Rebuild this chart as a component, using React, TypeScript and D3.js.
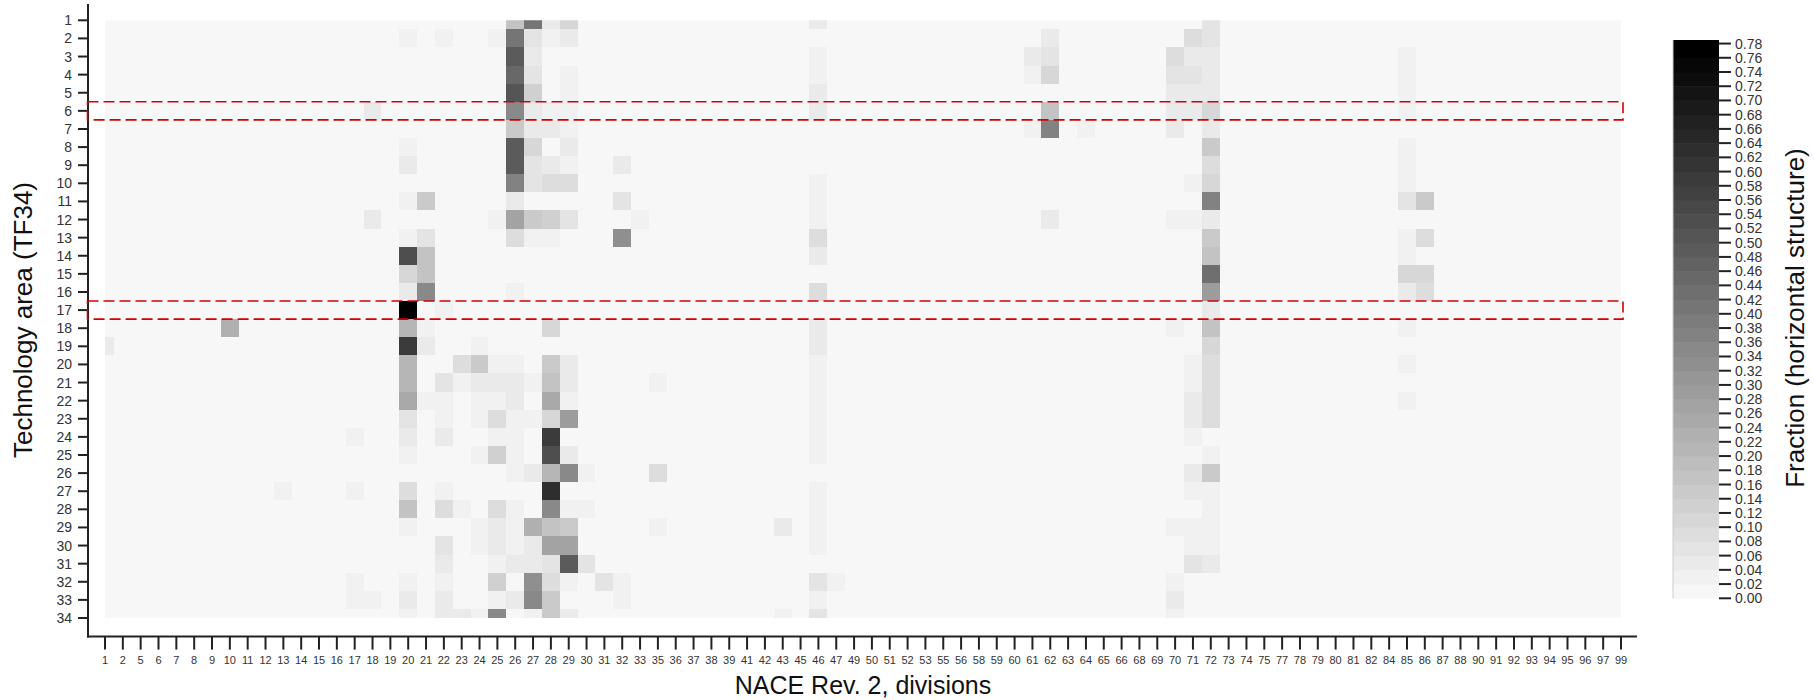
import React from "react";
import * as d3 from "d3";

// ---------- categories ----------
const naceDivisions = [
  1, 2, 5, 6, 7, 8, 9, 10, 11, 12, 13, 14, 15, 16, 17, 18, 19, 20, 21, 22, 23, 24, 25, 26, 27, 28, 29, 30, 31, 32, 33,
  35, 36, 37, 38, 39, 41, 42, 43, 45, 46, 47, 49, 50, 51, 52, 53, 55, 56, 58, 59, 60, 61, 62, 63, 64, 65, 66, 68, 69,
  70, 71, 72, 73, 74, 75, 77, 78, 79, 80, 81, 82, 84, 85, 86, 87, 88, 90, 91, 92, 93, 94, 95, 96, 97, 99,
];
const techAreas = d3.range(1, 35);
const colorbarTicks = d3.range(0, 40).map((i) => +(i * 0.02).toFixed(2));
const highlightedRows = [6, 17];

// ---------- values: dense divisions (rows 1..34) ----------
const div20 = [0, 0.02, 0, 0, 0, 0, 0, 0.02, 0.04, 0, 0.02, 0, 0.02, 0.53, 0.11, 0.05, 0.78, 0.21, 0.58, 0.21, 0.21, 0.25, 0.06, 0.04, 0.02, 0, 0.09, 0.16, 0.02, 0, 0, 0.02, 0.04, 0.02];
const div26 = [0.17, 0.4, 0.48, 0.45, 0.51, 0.34, 0.15, 0.48, 0.48, 0.37, 0.04, 0.27, 0.09, 0, 0, 0.02, 0, 0, 0, 0.02, 0.04, 0.04, 0.02, 0.02, 0.02, 0.02, 0, 0.02, 0.02, 0.02, 0.04, 0, 0.04, 0.01];
const div27 = [0.4, 0.07, 0.05, 0.07, 0.13, 0.05, 0.04, 0.1, 0.06, 0.06, 0, 0.14, 0.03, 0, 0, 0, 0, 0, 0, 0, 0.02, 0, 0.02, 0, 0, 0.04, 0, 0, 0.22, 0.04, 0.04, 0.32, 0.34, 0.02];
const div28 = [0.04, 0.03, 0, 0, 0, 0.03, 0.04, 0.01, 0.04, 0.09, 0, 0.13, 0.03, 0, 0, 0, 0, 0.1, 0, 0.14, 0.17, 0.25, 0.1, 0.58, 0.53, 0.21, 0.63, 0.34, 0.17, 0.27, 0.06, 0.09, 0.15, 0.15];
const div29 = [0.1, 0.05, 0, 0.02, 0.02, 0.03, 0.03, 0.04, 0.02, 0.09, 0, 0.06, 0, 0, 0, 0, 0, 0, 0, 0.04, 0.04, 0.02, 0.29, 0, 0.04, 0.35, 0, 0.03, 0.15, 0.27, 0.48, 0.02, 0, 0.05];
const div46 = [0.04, 0, 0.02, 0.02, 0.04, 0.04, 0, 0, 0, 0.02, 0.02, 0.02, 0.09, 0.04, 0, 0.09, 0, 0.05, 0.05, 0.02, 0.02, 0.02, 0.02, 0.02, 0.02, 0, 0.02, 0.02, 0.02, 0.02, 0, 0.07, 0.02, 0.06];
const div72 = [0.06, 0.06, 0.04, 0.04, 0.04, 0.1, 0.04, 0.15, 0.09, 0.11, 0.37, 0.04, 0.14, 0.16, 0.43, 0.29, 0.04, 0.17, 0.11, 0.09, 0.09, 0.09, 0.09, 0, 0.02, 0.14, 0.03, 0.03, 0.03, 0.03, 0.05, 0, 0, 0];
const denseDivisions: [number, number[]][] = [
  [20, div20], [26, div26], [27, div27], [28, div28], [29, div29], [46, div46], [72, div72],
];

// ---------- values: sparse cells [row, division, value] ----------
const sparseCells: [number, number, number][] = [
  [19, 1, 0.04], [18, 10, 0.22], [27, 13, 0.02],
  [24, 17, 0.03], [27, 17, 0.02], [32, 17, 0.03], [33, 17, 0.03],
  [6, 18, 0.05], [12, 18, 0.05], [33, 18, 0.03],
  [11, 21, 0.15], [13, 21, 0.06], [14, 21, 0.16], [15, 21, 0.16], [16, 21, 0.34], [18, 21, 0.02], [19, 21, 0.04], [22, 21, 0.02],
  [2, 22, 0.02], [17, 22, 0.02], [21, 22, 0.06], [22, 22, 0.02], [23, 22, 0.02], [24, 22, 0.04], [27, 22, 0.02], [28, 22, 0.09],
  [30, 22, 0.06], [31, 22, 0.04], [32, 22, 0.02], [33, 22, 0.04], [34, 22, 0.04],
  [20, 23, 0.09], [21, 23, 0.03], [28, 23, 0.02], [34, 23, 0.04],
  [19, 24, 0.02], [20, 24, 0.15], [21, 24, 0.04], [22, 24, 0.03], [23, 24, 0.02], [25, 24, 0.02], [29, 24, 0.02], [30, 24, 0.02], [34, 24, 0.02],
  [2, 25, 0.02], [12, 25, 0.02], [20, 25, 0.03], [21, 25, 0.04], [22, 25, 0.02], [23, 25, 0.09], [24, 25, 0.02], [25, 25, 0.13],
  [28, 25, 0.09], [29, 25, 0.04], [30, 25, 0.04], [31, 25, 0.02], [32, 25, 0.13], [33, 25, 0.02], [34, 25, 0.34],
  [26, 30, 0.02], [28, 30, 0.02], [31, 30, 0.06], [32, 31, 0.06],
  [9, 32, 0.04], [11, 32, 0.06], [13, 32, 0.32], [32, 32, 0.02], [33, 32, 0.02], [12, 33, 0.02],
  [21, 35, 0.02], [26, 35, 0.09], [29, 35, 0.02], [29, 43, 0.05], [34, 43, 0.02], [32, 47, 0.02],
  [3, 61, 0.04], [4, 61, 0.02], [7, 61, 0.02],
  [2, 62, 0.04], [3, 62, 0.07], [4, 62, 0.1], [6, 62, 0.17], [7, 62, 0.37], [12, 62, 0.04], [7, 64, 0.02],
  [3, 70, 0.09], [4, 70, 0.06], [5, 70, 0.04], [6, 70, 0.04], [7, 70, 0.04], [12, 70, 0.02], [18, 70, 0.02], [29, 70, 0.02],
  [32, 70, 0.02], [33, 70, 0.05], [34, 70, 0.02],
  [2, 71, 0.09], [3, 71, 0.04], [4, 71, 0.06], [5, 71, 0.04], [6, 71, 0.04], [10, 71, 0.02], [12, 71, 0.02], [20, 71, 0.02],
  [21, 71, 0.02], [22, 71, 0.04], [23, 71, 0.04], [24, 71, 0.02], [26, 71, 0.04], [27, 71, 0.02], [29, 71, 0.02], [30, 71, 0.02], [31, 71, 0.07],
  [3, 85, 0.02], [4, 85, 0.02], [5, 85, 0.02], [6, 85, 0.02], [8, 85, 0.02], [9, 85, 0.02], [10, 85, 0.02], [11, 85, 0.06],
  [13, 85, 0.02], [14, 85, 0.02], [15, 85, 0.11], [16, 85, 0.05], [18, 85, 0.02], [20, 85, 0.02], [22, 85, 0.02],
  [11, 86, 0.14], [13, 86, 0.09], [15, 86, 0.11], [16, 86, 0.09],
];

const FONT = "'Liberation Sans', Arial, Helvetica, sans-serif";

export default function App() {
  const x = d3.scalePoint<number>().domain(naceDivisions).range([105, 1621]);
  const y = d3.scalePoint<number>().domain(techAreas).range([20.3, 618]);
  const cw = x.step();
  const ch = y.step();

  const cbScale = d3.scaleLinear().domain([0, 0.785]).range([598.3, 40]);
  const nBands = 38;
  const bandColor = (k: number) => d3.interpolateRgb("#f7f7f7", "#000000")(Math.min(nBands, k) / nBands);
  const color = (v: number) => bandColor(Math.min(nBands, Math.floor(v / 0.02 + 1e-6)));

  const cells: { r: number; d: number; v: number }[] = [];
  denseDivisions.forEach(([d, arr]) => arr.forEach((v, i) => { if (v > 0) cells.push({ r: techAreas[i], d, v }); }));
  sparseCells.forEach(([r, d, v]) => cells.push({ r, d, v }));

  const fmt = d3.format(".2f");
  const axisColor = "#222";
  const xAxisY = 636.6;
  const yAxisX = 88;

  return (
    <div style={{ position: "absolute", left: 0, top: 0 }}>
      <svg width={1814} height={700} style={{ display: "block", background: "#fff" }} fontFamily={FONT}>
        <defs>
          <clipPath id="hm">
            <rect x={x(naceDivisions[0])} y={y(1)} width={x(99)! - x(1)!} height={y(34)! - y(1)!} />
          </clipPath>
        </defs>
        {/* heatmap */}
        <g clipPath="url(#hm)">
          <rect x={x(1)} y={y(1)} width={x(99)! - x(1)!} height={y(34)! - y(1)!} fill="#f7f7f7" />
          {cells.map((c, i) => (
            <rect key={i} x={x(c.d)! - cw / 2} y={y(c.r)! - ch / 2} width={cw} height={ch} fill={color(c.v)} shapeRendering="crispEdges" />
          ))}
        </g>
        {/* y axis */}
        <line x1={yAxisX} x2={yAxisX} y1={4} y2={xAxisY + 1} stroke={axisColor} strokeWidth={2} />
        {techAreas.map((r) => (
          <g key={r}>
            <line x1={yAxisX - 10} x2={yAxisX} y1={y(r)} y2={y(r)} stroke={axisColor} strokeWidth={2} />
            <text x={72} y={y(r)} textAnchor="end" dominantBaseline="central" fontSize={14} fill="#333">{r}</text>
          </g>
        ))}
        <text transform={`translate(32,320) rotate(-90)`} textAnchor="middle" fontSize={26} fill="#111">Technology area (TF34)</text>
        {/* x axis */}
        <line x1={yAxisX - 1} x2={1637} y1={xAxisY} y2={xAxisY} stroke={axisColor} strokeWidth={2} />
        {naceDivisions.map((d) => (
          <g key={d}>
            <line x1={x(d)} x2={x(d)} y1={xAxisY} y2={xAxisY + 13} stroke={axisColor} strokeWidth={2} />
            <text x={x(d)} y={664} textAnchor="middle" fontSize={11} fill="#333">{d}</text>
          </g>
        ))}
        <text x={863} y={694} textAnchor="middle" fontSize={25} fill="#111">NACE Rev. 2, divisions</text>
        {/* highlight boxes */}
        {highlightedRows.map((r) => (
          <rect key={r} x={87.5} y={y(r)! - ch / 2} width={1623 - 87.5} height={ch} fill="none" stroke="#d40000" strokeWidth={1.6} strokeDasharray="11,5" />
        ))}
        {/* colorbar */}
        {d3.range(0, nBands + 1).map((k) => {
          const y0 = cbScale(k * 0.02);
          const y1 = k === nBands ? cbScale(0.785) : cbScale((k + 1) * 0.02);
          return <rect key={k} x={1673} y={y1} width={46} height={y0 - y1 + 0.5} fill={bandColor(k)} />;
        })}
        <line x1={1673} x2={1673} y1={40} y2={598.3} stroke="#ccc" strokeWidth={1} />
        {colorbarTicks.map((t) => (
          <g key={t}>
            <line x1={1719} x2={1731} y1={cbScale(t)} y2={cbScale(t)} stroke={axisColor} strokeWidth={2} />
            <text x={1735} y={cbScale(t)} dominantBaseline="central" fontSize={14} fill="#333">{fmt(t)}</text>
          </g>
        ))}
        <text transform={`translate(1804,318) rotate(-90)`} textAnchor="middle" fontSize={26} fill="#111">Fraction (horizontal structure)</text>
      </svg>
    </div>
  );
}
